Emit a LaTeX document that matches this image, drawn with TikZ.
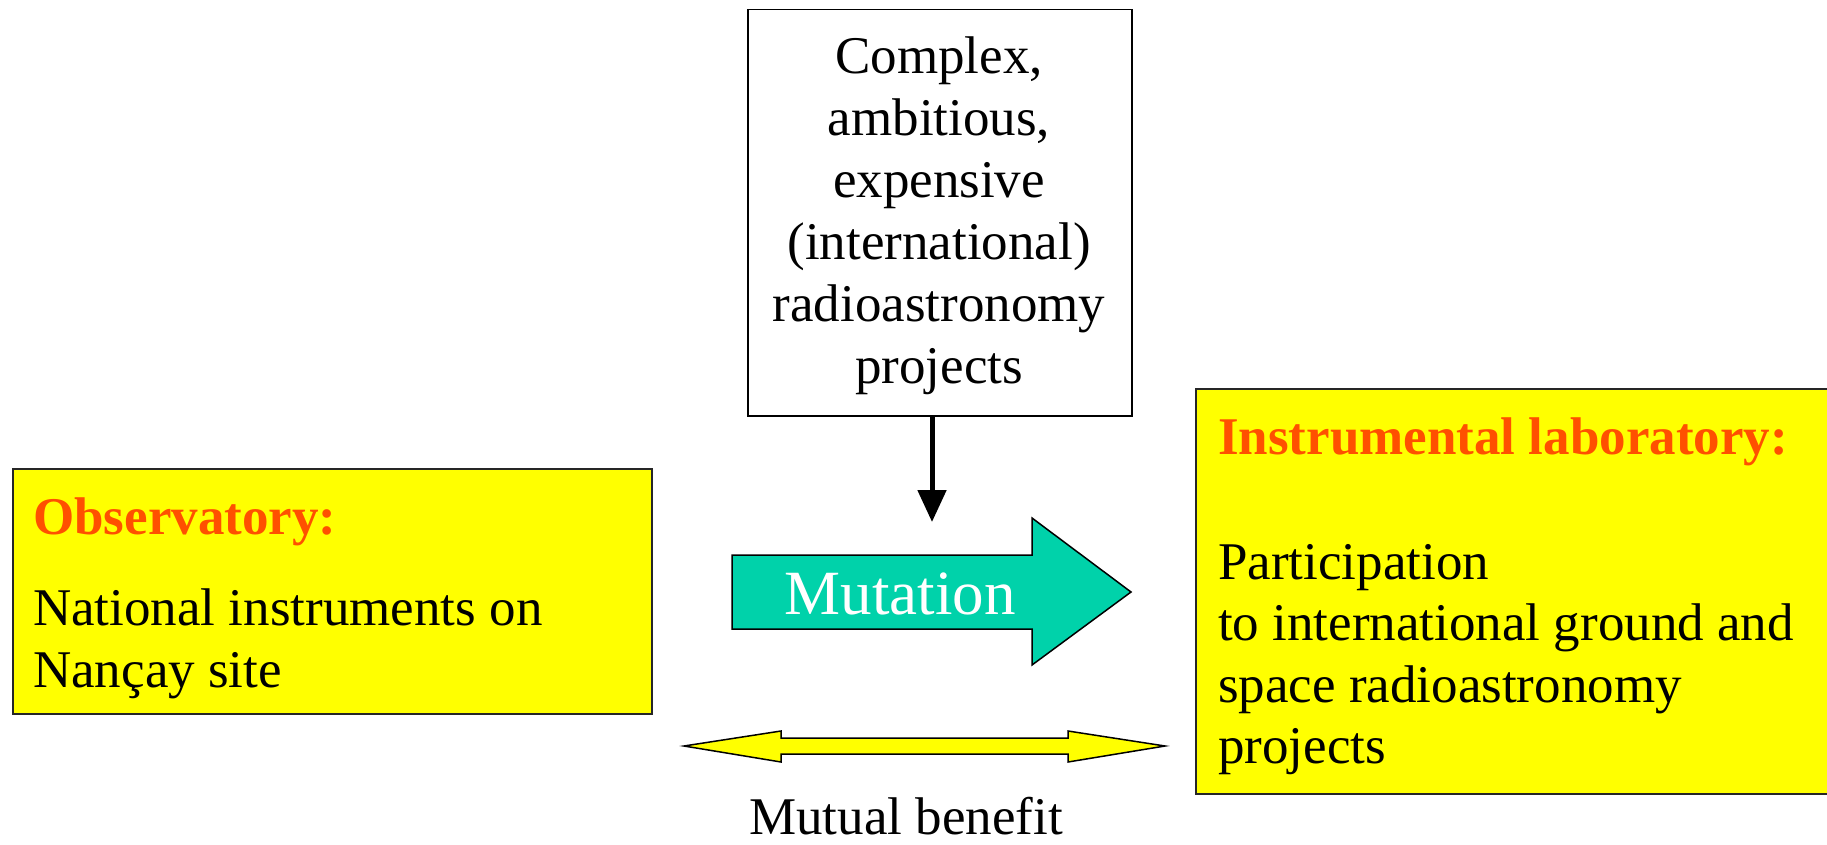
\documentclass[tikz,border=0pt]{standalone}
\usepackage{fontspec}
\setmainfont{Liberation Serif}
\usetikzlibrary{arrows.meta}
\definecolor{boxyellow}{HTML}{FFFF00}
\definecolor{titleorange}{HTML}{FF5000}
\definecolor{mutteal}{HTML}{00D2AA}

\begin{document}
\begin{tikzpicture}[x=1pt,y=-1pt,
  ybox/.style={draw=black!85, line width=2pt, fill=boxyellow, inner sep=0pt, anchor=north west},
  plainbox/.style={draw=black, line width=1.5pt, fill=white, inner sep=0pt, anchor=north west},
  bodytext/.style={font=\fontsize{53}{61.5}\selectfont, inner sep=0pt, align=left, anchor=base west},
  titletext/.style={font=\fontsize{53}{62}\selectfont\bfseries, text=titleorange, inner sep=0pt, anchor=base west},
  blockarrow/.style={draw=black, line width=1.5pt, line join=miter}
]
\useasboundingbox (0,0) rectangle (1827,845);

% top box: the kind of projects (multi-line nodes are placed by their last baseline)
\node[plainbox, minimum width=384pt, minimum height=406pt] (proj) at (747,9) {};
\node[font=\fontsize{53}{62}\selectfont, align=center, inner sep=0pt, anchor=base] (projtxt) at (939,383)
  {Complex,\\ambitious,\\expensive\\(international)\\radioastronomy\\projects};

% pointer from the projects down to the mutation
\coordinate (ptip) at (932,522);
\draw[line width=5pt, -{Triangle[length=32pt,width=28pt]}] (ptip |- proj.south) -- (ptip);

% left box: observatory
\node[ybox, minimum width=639pt, minimum height=245pt] (obs) at (12,468) {};
\node[titletext] (obstitle) at (33,534) {Observatory:};
\node[bodytext] (obsbody) at (33,687) {National instruments on\\Nançay site};

% right box: instrumental laboratory
\node[ybox, minimum width=700pt, minimum height=405pt] (lab) at (1195,388) {};
\node[titletext] (labtitle) at (1218,454) {Instrumental laboratory:};
\node[bodytext] (labbody) at (1218,763.5)
  {Participation\\to international ground and\\space radioastronomy\\projects};

% mutation block arrow
\coordinate (m1) at (732,555);
\coordinate (m2) at (1032,555);
\coordinate (m3) at (1032,518);
\coordinate (m4) at (1131,592);
\coordinate (m5) at (1032,665);
\coordinate (m6) at (1032,629);
\coordinate (m7) at (732,629);
\draw[blockarrow, fill=mutteal] (m1) -- (m2) -- (m3) -- (m4) -- (m5) -- (m6) -- (m7) -- cycle;
\node[font=\fontsize{63}{70}\selectfont, text=white, inner sep=0pt, anchor=base] (mut) at (900,614) {Mutation};

% mutual benefit double arrow
\coordinate (b1) at (684,746);
\coordinate (b2) at (781,731);
\coordinate (b3) at (781,738);
\coordinate (b4) at (1068,738);
\coordinate (b5) at (1068,731);
\coordinate (b6) at (1165,746);
\coordinate (b7) at (1068,762);
\coordinate (b8) at (1068,754);
\coordinate (b9) at (781,754);
\coordinate (b10) at (781,762);
\draw[blockarrow, fill=boxyellow] (b1) -- (b2) -- (b3) -- (b4) -- (b5) -- (b6) -- (b7) -- (b8) -- (b9) -- (b10) -- cycle;
\node[font=\fontsize{53}{62}\selectfont, inner sep=0pt, anchor=base] (mutual) at (906,834) {Mutual benefit};
\end{tikzpicture}
\end{document}
